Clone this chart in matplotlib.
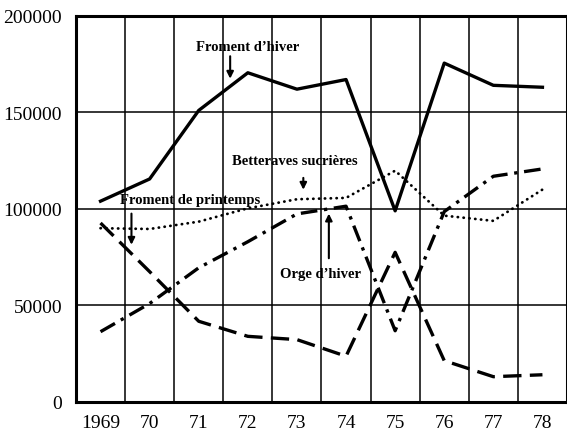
import matplotlib
matplotlib.use("Agg")
import matplotlib.pyplot as plt

years = [1969, 1970, 1971, 1972, 1973, 1974, 1975, 1976, 1977, 1978]
year_labels = ["1969", "70", "71", "72", "73", "74", "75", "76", "77", "78"]
froment_hiver = [104000, 115500, 151000, 170500, 162000, 167000, 99000, 175500, 164000, 163000]
betteraves = [90000, 89600, 93400, 100300, 105000, 105700, 119800, 96500, 93800, 110000]
orge_hiver = [36400, 51000, 69500, 83000, 97400, 101400, 36900, 98600, 116900, 120700]
froment_printemps = [92700, 67500, 41800, 34000, 32300, 23700, 77500, 21400, 13100, 14100]
y_ticks = [0, 50000, 100000, 150000, 200000]

plt.rcParams['font.family'] = ['Liberation Serif', 'DejaVu Serif']

fig = plt.figure(figsize=(5.67, 4.31), dpi=100)
ax = fig.add_axes([0.134, 0.065, 0.866, 0.896])

ax.set_xlim(1968.5, 1978.5)
ax.set_ylim(0, 200000)

# grid
for gx in [y + 0.5 for y in years[:-1]]:
    ax.axvline(gx, color='black', lw=1.1, zorder=1)
for gy in y_ticks[1:-1]:
    ax.axhline(gy, color='black', lw=1.1, zorder=1)

ax.plot(years, froment_hiver, color='black', lw=2.4, ls='-', zorder=3)
ax.plot(years, betteraves, color='black', lw=2.0, ls=(0, (0.1, 2.0)),
        dash_capstyle='round', zorder=3)
ax.plot(years, orge_hiver, color='black', lw=2.4, ls=(0, (5, 2, 1, 2)), zorder=3)
ax.plot(years, froment_printemps, color='black', lw=2.4, ls=(0, (5.5, 2.5)), zorder=3)

ax.set_xticks(years)
ax.set_xticklabels(year_labels)
ax.set_yticks(y_ticks)
ax.set_yticklabels([str(v) for v in y_ticks])
ax.tick_params(axis='both', length=0, labelsize=14, pad=9)
ax.tick_params(axis='y', pad=10)

for side in ['left', 'bottom', 'top', 'right']:
    ax.spines[side].set_linewidth(2.2)

afont = dict(fontsize=10.5, fontweight='bold', ha='center', va='center', zorder=5)
ax.text(1972.0, 184000, "Froment d\u2019hiver", **afont)
ax.annotate("", xy=(1971.64, 166000), xytext=(1971.64, 180500),
            arrowprops=dict(arrowstyle='-|>', color='black', lw=1.5, mutation_scale=10))
ax.text(1972.95, 125000, "Betteraves sucri\u00e8res", **afont)
ax.annotate("", xy=(1973.13, 108500), xytext=(1973.13, 117500),
            arrowprops=dict(arrowstyle='-|>', color='black', lw=1.5, mutation_scale=10))
ax.text(1970.83, 104700, "Froment de printemps", **afont)
ax.annotate("", xy=(1969.63, 80000), xytext=(1969.63, 99000),
            arrowprops=dict(arrowstyle='-|>', color='black', lw=1.5, mutation_scale=10))
ax.text(1973.47, 66800, "Orge d\u2019hiver", **afont)
ax.annotate("", xy=(1973.65, 99000), xytext=(1973.65, 73000),
            arrowprops=dict(arrowstyle='-|>', color='black', lw=1.5, mutation_scale=10))

fig.savefig("out.png", dpi=100)
